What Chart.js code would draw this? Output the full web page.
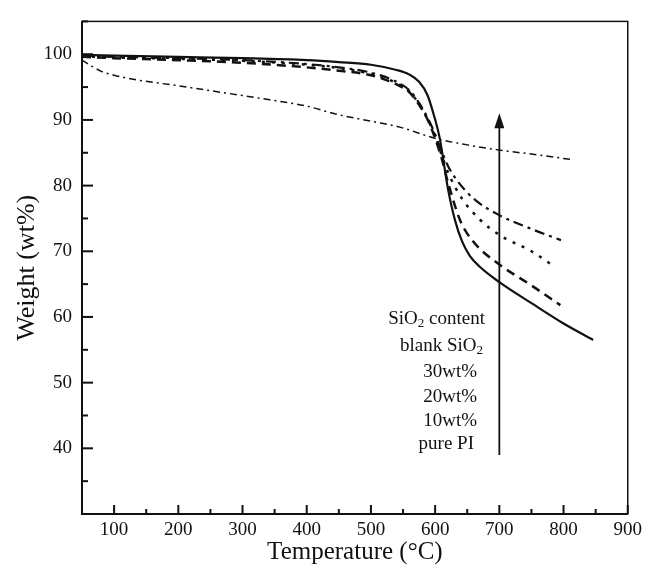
<!DOCTYPE html>
<html>
<head>
<meta charset="utf-8">
<script src="https://cdn.jsdelivr.net/npm/chart.js@4"></script>
<style>
  html, body { margin: 0; padding: 0; background: #fff; }
  canvas { display: block; }
</style>
</head>
<body>
<canvas id="tga" width="647" height="578"></canvas>
<script>
// TGA curves, temperature in deg C, weight in wt%
const pureT = [50, 100, 200, 300, 400, 450, 500, 540, 560, 575, 588, 599, 607, 620, 631, 642, 654, 670, 700, 750, 800, 846];
const pureW = [99.9, 99.8, 99.6, 99.4, 99.1, 98.8, 98.4, 97.6, 96.9, 95.8, 93.8, 90.4, 87.3, 79.5, 74.7, 71.5, 69.3, 67.6, 65.3, 62.1, 59.0, 56.5];

const pi10T = [50, 100, 200, 300, 400, 450, 500, 540, 560, 575, 590, 600, 610, 620, 639, 660, 700, 750, 795];
const pi10W = [99.6, 99.4, 99.1, 98.7, 98.0, 97.5, 96.8, 95.4, 94.2, 92.3, 89.7, 87.2, 84.2, 80.5, 74.7, 71.4, 68.0, 64.8, 61.8];

const pi20T = [50, 100, 200, 300, 400, 450, 500, 540, 560, 575, 590, 600, 610, 620, 642, 670, 700, 750, 784];
const pi20W = [99.7, 99.5, 99.3, 99.0, 98.4, 97.9, 97.0, 95.6, 94.3, 92.4, 89.8, 87.5, 84.7, 82.0, 78.0, 74.8, 72.5, 70.0, 67.8];

const pi30T = [50, 100, 200, 300, 400, 450, 500, 540, 560, 575, 590, 600, 610, 620, 634, 660, 700, 750, 796];
const pi30W = [99.8, 99.6, 99.4, 99.1, 98.5, 98.0, 97.2, 95.8, 94.5, 92.6, 90.0, 87.8, 85.3, 83.0, 80.8, 78.0, 75.5, 73.4, 71.7];

const silicaT = [50, 65, 80, 100, 135, 200, 240, 340, 400, 445, 500, 545, 600, 650, 700, 750, 810];
const silicaW = [99.1, 98.2, 97.4, 96.8, 96.1, 95.2, 94.6, 93.1, 92.1, 90.9, 89.8, 88.9, 87.2, 86.2, 85.4, 84.8, 84.0];

const legendLines = ['SiO2 content', 'blank SiO2', '30wt%', '20wt%', '10wt%', 'pure PI'];
const arrowT = 700;
const arrowW = [39, 91];

const xRange = [50, 900];
const yRange = [30, 105];

const pts = (ts, ws) => ts.map((t, i) => ({ x: t, y: ws[i] }));

const serif = '"Liberation Serif", "DejaVu Serif", serif';

// ticks pointing inward + frame
const frameTicks = {
  id: 'frameTicks',
  afterDatasetsDraw(chart) {
    const { ctx, chartArea: a, scales: { x, y } } = chart;
    ctx.save();
    ctx.strokeStyle = '#111';
    ctx.lineWidth = 1.5;
    ctx.strokeRect(a.left, a.top, a.right - a.left, a.bottom - a.top);
    ctx.lineWidth = 2;
    ctx.beginPath();
    ctx.moveTo(a.left, a.top); ctx.lineTo(a.left, a.bottom); ctx.lineTo(a.right, a.bottom);
    ctx.stroke();
    x.ticks.forEach(t => {
      const px = x.getPixelForValue(t.value);
      const len = t.value % 100 === 0 ? 9 : 5;
      ctx.beginPath(); ctx.moveTo(px, a.bottom); ctx.lineTo(px, a.bottom - len); ctx.stroke();
    });
    y.ticks.forEach(t => {
      const py = y.getPixelForValue(t.value);
      const len = t.value % 10 === 0 ? 11 : 6;
      ctx.beginPath(); ctx.moveTo(a.left, py); ctx.lineTo(a.left + len, py); ctx.stroke();
    });
    ctx.restore();
  }
};

// arrow and the SiO2 content labels
const notes = {
  id: 'notes',
  afterDatasetsDraw(chart) {
    const { ctx, scales: { x, y } } = chart;
    const ax = x.getPixelForValue(arrowT);
    const y0 = y.getPixelForValue(arrowW[0]);
    const y1 = y.getPixelForValue(arrowW[1]);
    ctx.save();
    ctx.strokeStyle = '#111';
    ctx.fillStyle = '#111';
    ctx.lineWidth = 1.8;
    ctx.beginPath(); ctx.moveTo(ax, y0); ctx.lineTo(ax, y1 + 10); ctx.stroke();
    ctx.beginPath();
    ctx.moveTo(ax, y1); ctx.lineTo(ax - 5, y1 + 15); ctx.lineTo(ax + 5, y1 + 15); ctx.closePath();
    ctx.fill();

    const rights = [485, 483, 477, 477, 477, 474];
    const rows = [319, 346, 372, 397, 421, 444];
    const big = '19px ' + serif, small = '13px ' + serif;
    ctx.textBaseline = 'middle';
    ctx.textAlign = 'left';
    legendLines.forEach((line, i) => {
      // split on the 2 in SiO2 so it can be drawn as a subscript
      const parts = line.split(/(?<=SiO)(2)/);
      let w = 0;
      parts.forEach(p => { ctx.font = p === '2' ? small : big; w += ctx.measureText(p).width; });
      let cx = rights[i] - w;
      parts.forEach(p => {
        ctx.font = p === '2' ? small : big;
        ctx.fillText(p, cx, rows[i] + (p === '2' ? 5 : 0));
        cx += ctx.measureText(p).width;
      });
    });
    ctx.restore();
  }
};

const line = (label, ts, ws, dash, width) => ({
  label,
  data: pts(ts, ws),
  borderColor: '#111',
  borderWidth: width,
  borderDash: dash,
  pointRadius: 0,
  fill: false,
  cubicInterpolationMode: 'monotone'
});

new Chart(document.getElementById('tga'), {
  type: 'line',
  data: {
    datasets: [
      line('blank SiO2', silicaT, silicaW, [7, 4, 2, 4], 1.5),
      line('30wt%', pi30T, pi30W, [10, 5, 3, 5], 2.2),
      line('20wt%', pi20T, pi20W, [3, 7], 2.5),
      line('10wt%', pi10T, pi10W, [9, 6], 2.5),
      line('pure PI', pureT, pureW, [], 2.2)
    ]
  },
  options: {
    responsive: false,
    animation: false,
    devicePixelRatio: 1,
    layout: { padding: { top: 14, right: 15, left: 0, bottom: 0 } },
    plugins: { legend: { display: false }, tooltip: { enabled: false } },
    scales: {
      x: {
        type: 'linear',
        min: xRange[0],
        max: xRange[1],
        afterFit: s => { s.height = 64; },
        grid: { display: false, drawTicks: false },
        border: { display: false },
        ticks: {
          stepSize: 50,
          autoSkip: false,
          maxRotation: 0,
          padding: 5,
          color: '#111',
          font: { family: serif, size: 19 },
          callback: v => (v % 100 === 0 ? v : '')
        },
        title: {
          display: true,
          text: 'Temperature (°C)',
          color: '#111',
          font: { family: serif, size: 25 },
          padding: { top: 0, bottom: 11 }
        }
      },
      y: {
        min: yRange[0],
        max: yRange[1],
        afterFit: s => { s.width = 82; },
        grid: { display: false, drawTicks: false },
        border: { display: false },
        ticks: {
          stepSize: 5,
          autoSkip: false,
          padding: 10,
          color: '#111',
          font: { family: serif, size: 19 },
          callback: v => (v % 10 === 0 && v >= 40 && v <= 100 ? v : '')
        },
        title: {
          display: true,
          text: 'Weight (wt%)',
          color: '#111',
          font: { family: serif, size: 26 },
          padding: { top: 12, bottom: 0 }
        }
      }
    }
  },
  plugins: [frameTicks, notes]
});
</script>
</body>
</html>
